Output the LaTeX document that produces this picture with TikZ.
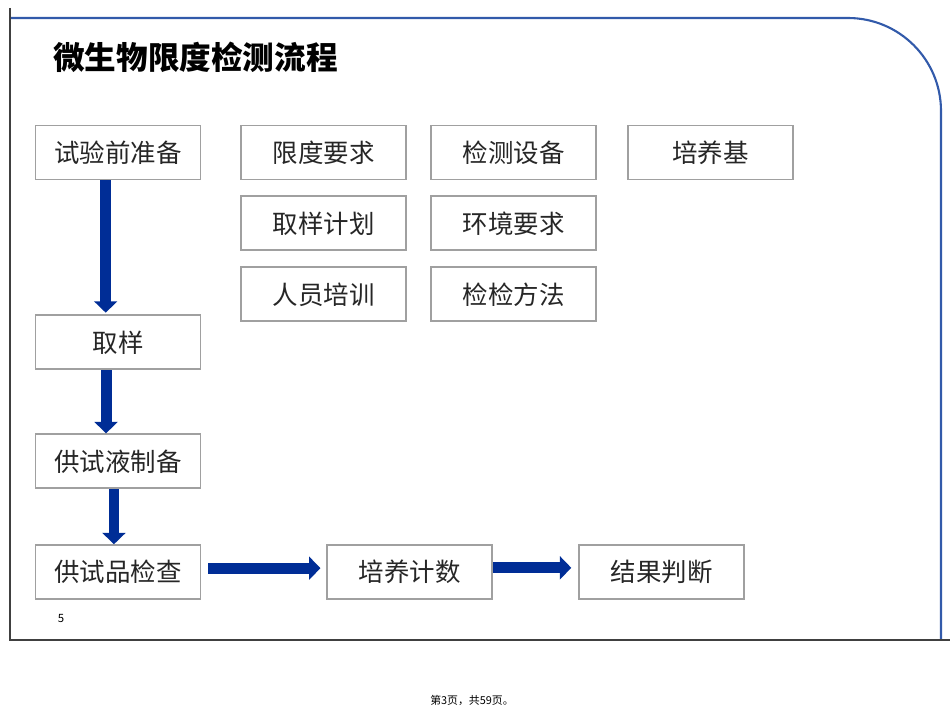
\documentclass[tikz,border=0pt]{standalone}
\usepackage{fontspec}
\newfontfamily\cjk{Noto Sans CJK SC}
\usepackage{tikz}
\usetikzlibrary{arrows.meta,positioning}
\definecolor{arrowblue}{RGB}{0,45,150}
\definecolor{framegray}{RGB}{64,64,64}
\definecolor{frameblue}{RGB}{50,90,170}
\definecolor{boxgray}{RGB}{160,160,160}

\begin{document}
\begin{tikzpicture}[
  x=0.02cm, y=-0.02cm,
  node distance=0.3cm and 0.46cm,
  box/.style={rectangle, draw=boxgray, line width=1.1pt, minimum width=3.3cm, minimum height=1.08cm, align=center, font=\cjk\fontsize{14.5pt}{17pt}\selectfont, text=black!85},
  arr/.style={-{Triangle[width=13pt,length=6.5pt]}, line width=6.2pt, arrowblue}
]
  \useasboundingbox (0,0) rectangle (950,713);
  \draw[frameblue, line width=1.2pt, rounded corners=1.86cm] (10,18) -- (941,18) -- (941,640);
  \draw[framegray, line width=1.7pt] (10,8) -- (10,640) -- (950,640);

  \node[anchor=west, font=\cjk\bfseries\fontsize{18pt}{22pt}\selectfont] (title) at (47,57) {微生物限度检测流程};

  \node[box] (prep) at (118,152.5) {试验前准备};
  \node[box, right=0.78cm of prep] (limit) {限度要求};
  \node[box, right=of limit] (equip) {检测设备};
  \node[box, right=0.6cm of equip] (medium) {培养基};
  \node[box, below=of limit] (plan) {取样计划};
  \node[box, below=of equip] (env) {环境要求};
  \node[box, below=of plan] (staff) {人员培训};
  \node[box, below=of env] (method) {检检方法};

  \node[box, below=2.68cm of prep] (sample) {取样};
  \node[box, below=1.26cm of sample] (soln) {供试液制备};
  \node[box, below=1.1cm of soln] (check) {供试品检查};
  \node[box, right=2.5cm of check] (count) {培养计数};
  \node[box, right=1.7cm of count] (result) {结果判断};

  \node[font=\cjk\fontsize{6.5pt}{7pt}\selectfont] (pagenum) at (61,618) {5};
  \node[font=\cjk\fontsize{6.2pt}{7pt}\selectfont] (footer) at (472,700) {第3页，共59页。};

  \draw[arr] ([xshift=-7pt]prep.south) -- ([xshift=-7pt,yshift=1pt]sample.north);
  \draw[arr] ([xshift=-6.8pt]sample.south) -- ([xshift=-6.8pt]soln.north);
  \draw[arr] ([xshift=-2.3pt]soln.south) -- ([xshift=-2.3pt]check.north);
  \draw[arr] ([xshift=4pt,yshift=2.3pt]check.east) -- ([xshift=-3.4pt,yshift=2.3pt]count.west);
  \draw[arr] ([yshift=2.5pt]count.east) -- ([xshift=-4pt,yshift=2.5pt]result.west);
\end{tikzpicture}
\end{document}
